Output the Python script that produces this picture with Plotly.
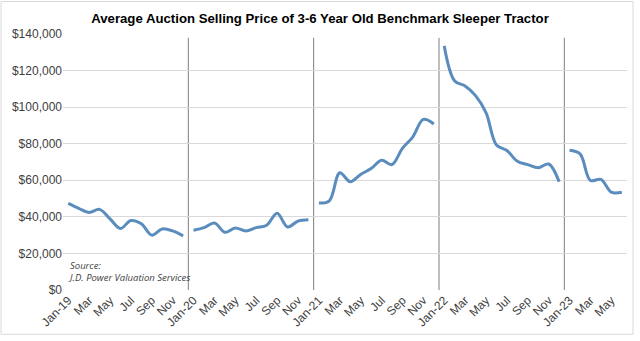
import plotly.graph_objects as go

# Monthly average auction selling price, Jan-2019 .. Jun-2023 (USD)
years = ["2019", "2020", "2021", "2022", "2023"]
price_2019 = [47400, 44700, 42400, 44100, 38900, 33600, 38000, 36200, 30000, 33400, 32300, 29600]
price_2020 = [32700, 34100, 36600, 31600, 33900, 32300, 34100, 35400, 42000, 34500, 37700, 38400]
price_2021 = [47600, 48800, 64100, 59200, 63200, 66400, 70900, 68600, 77500, 83800, 93300, 90800]
price_2022 = [133500, 114300, 111600, 106300, 97000, 79300, 76300, 70400, 68600, 66800, 68900, 59200]
price_2023 = [76400, 74400, 59900, 60500, 53500, 53500]

tick_labels = ["Jan-19", "Mar", "May", "Jul", "Sep", "Nov",
               "Jan-20", "Mar", "May", "Jul", "Sep", "Nov",
               "Jan-21", "Mar", "May", "Jul", "Sep", "Nov",
               "Jan-22", "Mar", "May", "Jul", "Sep", "Nov",
               "Jan-23", "Mar", "May"]
y_ticks = [0, 20000, 40000, 60000, 80000, 100000, 120000, 140000]

series = [price_2019, price_2020, price_2021, price_2022, price_2023]
LINE = "#5A8DBE"
TEXT = "#404040"

fig = go.Figure()
start = 0
for yr, vals in zip(years, series):
    xs = list(range(start, start + len(vals)))
    fig.add_trace(go.Scatter(
        x=xs, y=vals, mode="lines", name=yr,
        line=dict(color=LINE, width=3, shape="spline", smoothing=1),
        showlegend=False, hoverinfo="x+y",
    ))
    start += len(vals)
n_months = start

# Year dividers between December and January
for k in range(1, len(series)):
    xb = 12 * k - 0.5
    fig.add_shape(type="line", xref="x", yref="y", x0=xb, x1=xb, y0=0, y1=137900,
                  line=dict(color="#7F7F7F", width=1), layer="below")

W, H = 640, 341
L, R, T, B = 63, 13, 34, 47
pw, ph = W - L - R, H - T - B

# Outer chart border
fig.add_shape(type="rect", xref="paper", yref="paper",
              x0=(1 - L) / pw, x1=(633 - L) / pw,
              y0=(H - B - 339) / ph, y1=(H - B - 1) / ph,
              line=dict(color="#D9D9D9", width=1))

fig.add_annotation(xref="paper", yref="paper", x=(66 - L) / pw, y=(H - B - 290) / ph,
                   xanchor="left", yanchor="bottom", align="left", showarrow=False,
                   text="<i>Source:<br>J.D. Power Valuation Services</i>",
                   font=dict(family="Open Sans, sans-serif", size=9.5, color=TEXT))

fig.update_layout(
    width=W, height=H,
    margin=dict(l=L, r=R, t=T, b=B),
    paper_bgcolor="white", plot_bgcolor="white",
    title=dict(text="<b>Average Auction Selling Price of 3-6 Year Old Benchmark Sleeper Tractor</b>",
               x=0.5, xref="container", xanchor="center", y=1 - 18 / H, yanchor="middle",
               font=dict(family="Liberation Sans, Arial, sans-serif", size=13.2, color="#000000")),
    font=dict(family="Liberation Sans, Arial, sans-serif", size=12, color=TEXT),
)
fig.update_xaxes(
    range=[-0.5, n_months - 0.5],
    tickmode="array", tickvals=list(range(0, n_months, 2)), ticktext=tick_labels,
    tickangle=-45, showgrid=False, zeroline=False, showline=False, ticks="",
    tickfont=dict(size=12, color=TEXT),
)
fig.update_yaxes(
    range=[0, 140000], tickmode="array", tickvals=y_ticks,
    ticktext=["${:,.0f}".format(v) for v in y_ticks],
    showgrid=True, gridcolor="#D9D9D9", gridwidth=1, zeroline=False,
    showline=False, ticks="", tickfont=dict(size=12, color=TEXT),
)

fig.write_html("out.html")
